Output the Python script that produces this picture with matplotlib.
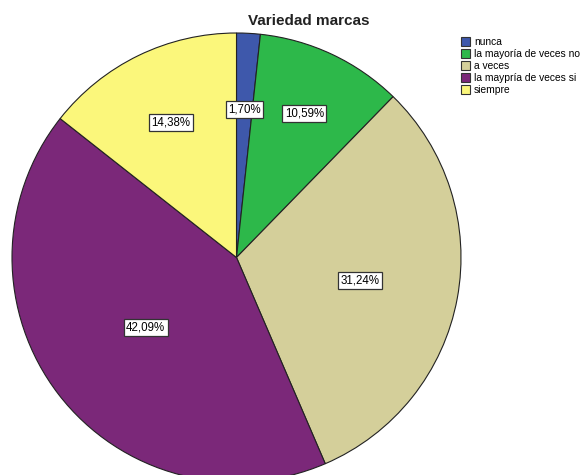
import numpy as np
import matplotlib.pyplot as plt
from matplotlib.patches import Patch

categories = ["nunca", "la mayoría de veces no", "a veces",
              "la maypría de veces si", "siempre"]
percentages = [1.70, 10.59, 31.24, 42.09, 14.38]
labels = ["1,70%", "10,59%", "31,24%", "42,09%", "14,38%"]
colors = ["#3e58ab", "#2db84a", "#d4cf9a", "#7b2879", "#fbf77b"]
# radial position of each percentage box (fraction of the radius)
label_radius = [0.66, 0.71, 0.56, 0.51, 0.67]

plt.rcParams["font.family"] = ["Liberation Sans", "DejaVu Sans"]

fig = plt.figure(figsize=(5.88, 4.75), dpi=100)
ax = fig.add_axes([12 / 588, -7 / 475, 449 / 588, 449 / 475])

wedges, _ = ax.pie(percentages, colors=colors, startangle=90, counterclock=False,
                   radius=1, wedgeprops=dict(edgecolor="#222222", linewidth=0.8))

# percentage boxes
angle = 90.0
for pct, lab, r in zip(percentages, labels, label_radius):
    mid = np.deg2rad(angle - pct * 3.6 / 2)
    angle -= pct * 3.6
    ax.text(r * np.cos(mid), r * np.sin(mid), lab, ha="center", va="center",
            fontsize=8.3,
            bbox=dict(boxstyle="square,pad=0.22", fc="white", ec="#333333", lw=0.9))

ax.set_xlim(-1, 1)
ax.set_ylim(-1, 1)
ax.set_aspect("equal")
ax.axis("off")

fig.text(309 / 588, 1 - 21 / 475, "Variedad marcas", ha="center", va="center",
         fontsize=11, fontweight="bold", color="#222222")

handles = [Patch(facecolor=c, edgecolor="#333333", linewidth=0.8) for c in colors]
fig.legend(handles, categories, loc="upper left", bbox_to_anchor=(461 / 588, 1 - 37 / 475),
           frameon=False, fontsize=7.4, handlelength=0.9, handleheight=0.9,
           handletextpad=0.35, labelspacing=0.2, borderpad=0, borderaxespad=0)

fig.savefig("out.png", dpi=100)
